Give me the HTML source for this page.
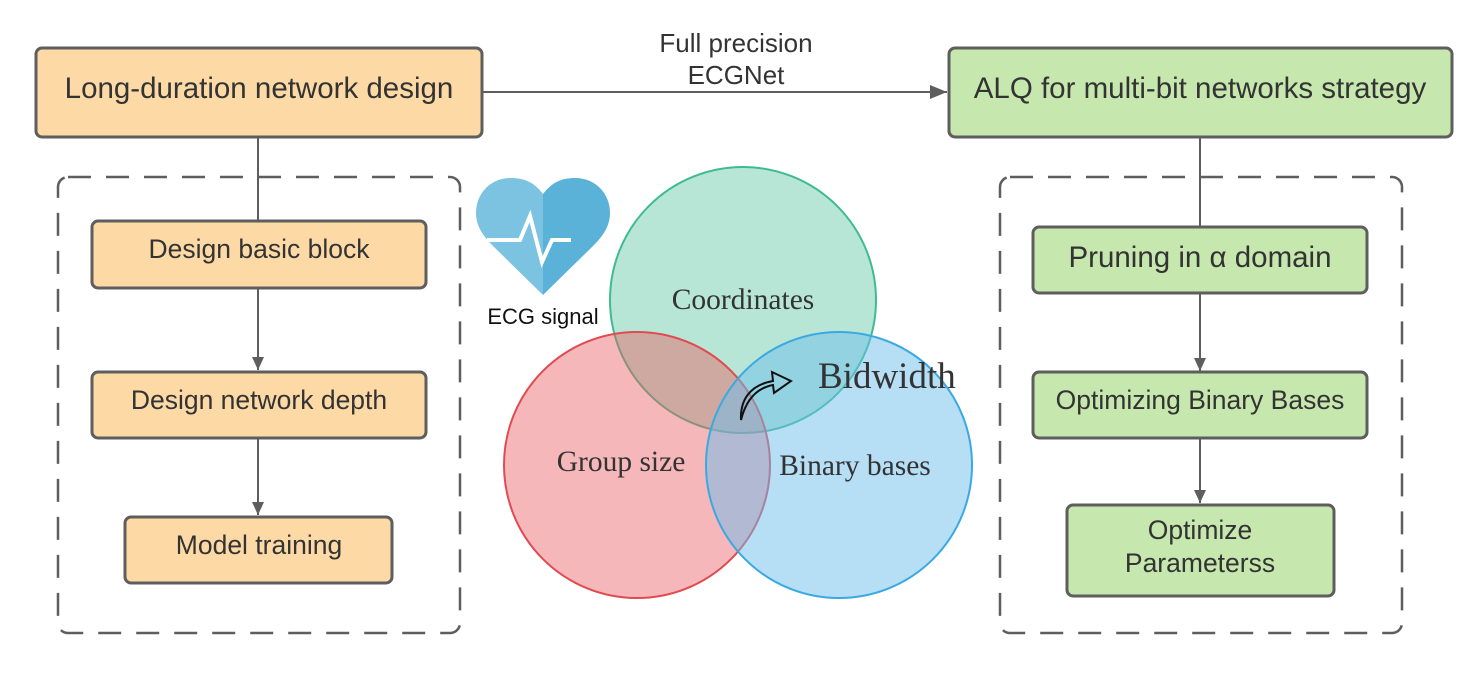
<!DOCTYPE html>
<html><head><meta charset="utf-8"><style>
html,body{margin:0;padding:0;background:#fff;}
svg{display:block;}
.s{font-family:"Liberation Sans",sans-serif;fill:#333;}
.r{font-family:"Liberation Serif",serif;fill:#333;}
</style></head><body>
<svg width="1474" height="697" viewBox="0 0 1474 697" xmlns="http://www.w3.org/2000/svg">
<defs><marker id="a" markerWidth="14" markerHeight="18" refX="13" refY="9" orient="auto" markerUnits="userSpaceOnUse"><path d="M0,3 L13,9 L0,15 z" fill="#5e5e5e"/></marker>
<marker id="b" markerWidth="18" markerHeight="16" refX="17" refY="8" orient="auto" markerUnits="userSpaceOnUse"><path d="M0,1 L17,8 L0,15 z" fill="#5e5e5e"/></marker></defs>
<rect x="58" y="177" width="402" height="456" rx="10" fill="none" stroke="#5e5e5e" stroke-width="2.5" stroke-dasharray="23,15"/>
<rect x="1000" y="177" width="402" height="456" rx="10" fill="none" stroke="#5e5e5e" stroke-width="2.5" stroke-dasharray="23,15"/>
<line x1="258" y1="137" x2="258" y2="220" stroke="#5e5e5e" stroke-width="2"/>
<line x1="258" y1="288" x2="258" y2="370" stroke="#5e5e5e" stroke-width="2" marker-end="url(#a)"/>
<line x1="258" y1="438" x2="258" y2="515" stroke="#5e5e5e" stroke-width="2" marker-end="url(#a)"/>
<line x1="1200" y1="137" x2="1200" y2="226" stroke="#5e5e5e" stroke-width="2"/>
<line x1="1200" y1="293" x2="1200" y2="371" stroke="#5e5e5e" stroke-width="2" marker-end="url(#a)"/>
<line x1="1200" y1="438" x2="1200" y2="503" stroke="#5e5e5e" stroke-width="2" marker-end="url(#a)"/>
<line x1="482" y1="92" x2="947" y2="92" stroke="#5e5e5e" stroke-width="2" marker-end="url(#b)"/>
<text class="s" x="736" y="52" font-size="26" text-anchor="middle">Full precision</text>
<text class="s" x="736" y="84" font-size="26" text-anchor="middle">ECGNet</text>
<g stroke="#5e5e5e" stroke-width="3">
<rect x="36" y="48" width="446" height="89" rx="6" fill="#fdd9a6"/>
<rect x="92" y="221" width="334" height="67" rx="6" fill="#fdd9a6"/>
<rect x="92" y="372" width="334" height="66" rx="6" fill="#fdd9a6"/>
<rect x="125" y="517" width="267" height="66" rx="6" fill="#fdd9a6"/>
<rect x="949" y="48" width="503" height="89" rx="6" fill="#c6e7ad"/>
<rect x="1033" y="227" width="334" height="66" rx="6" fill="#c6e7ad"/>
<rect x="1033" y="372" width="334" height="66" rx="6" fill="#c6e7ad"/>
<rect x="1067" y="505" width="267" height="91" rx="6" fill="#c6e7ad"/>
</g>
<text class="s" x="259" y="98" font-size="29.5" text-anchor="middle">Long-duration network design</text>
<text class="s" x="259" y="258" font-size="26.5" text-anchor="middle">Design basic block</text>
<text class="s" x="259" y="409" font-size="26.5" text-anchor="middle">Design network depth</text>
<text class="s" x="259" y="554" font-size="26.5" text-anchor="middle">Model training</text>
<text class="s" x="1200" y="98" font-size="29.5" text-anchor="middle">ALQ for multi-bit networks strategy</text>
<text class="s" x="1200" y="267" font-size="29.5" text-anchor="middle">Pruning in α domain</text>
<text class="s" x="1200" y="409" font-size="26.5" text-anchor="middle">Optimizing Binary Bases</text>
<text class="s" x="1200" y="539" font-size="26.5" text-anchor="middle">Optimize</text>
<text class="s" x="1200" y="572" font-size="26.5" text-anchor="middle">Parameterss</text>
<!-- heart -->
<path d="M543,194 C534,182 524,178 511,178 C490,178 476,194 476,213 C476,226 483,236 493,246 L543,295 Z" fill="#7cc3e1"/>
<path d="M543,194 C552,182 562,178 575,178 C596,178 610,194 610,213 C610,226 603,236 593,246 L543,295 Z" fill="#5ab2d8"/>
<polyline points="487,240 520,240 530,216 542,262 552,240 571,240" fill="none" stroke="#fff" stroke-width="4"/>
<text x="543" y="324" font-family="Liberation Sans,sans-serif" font-size="22" fill="#111" text-anchor="middle">ECG signal</text>
<circle cx="743" cy="300" r="133" fill="rgba(124,209,180,0.55)" stroke="#3dbb93" stroke-width="2"/>
<circle cx="637" cy="465" r="133" fill="rgba(232,95,100,0.45)" stroke="#e04a50" stroke-width="2"/>
<circle cx="839" cy="465" r="133" fill="rgba(110,190,235,0.5)" stroke="#3aa9e2" stroke-width="2"/>
<text class="r" x="743" y="309" font-size="29.5" text-anchor="middle">Coordinates</text>
<text class="r" x="621" y="471" font-size="29.5" text-anchor="middle">Group size</text>
<text class="r" x="855" y="475" font-size="29.5" text-anchor="middle">Binary bases</text>
<text class="r" x="818" y="388" font-size="37" fill="#222">Bidwidth</text>
<path d="M741,420 C740,400 750,385 773,381 L772,372 L791,381 L774,393 L773,385 C757,388 746,400 741,420 Z" fill="none" stroke="#111" stroke-width="2"/>
</svg>
</body></html>
